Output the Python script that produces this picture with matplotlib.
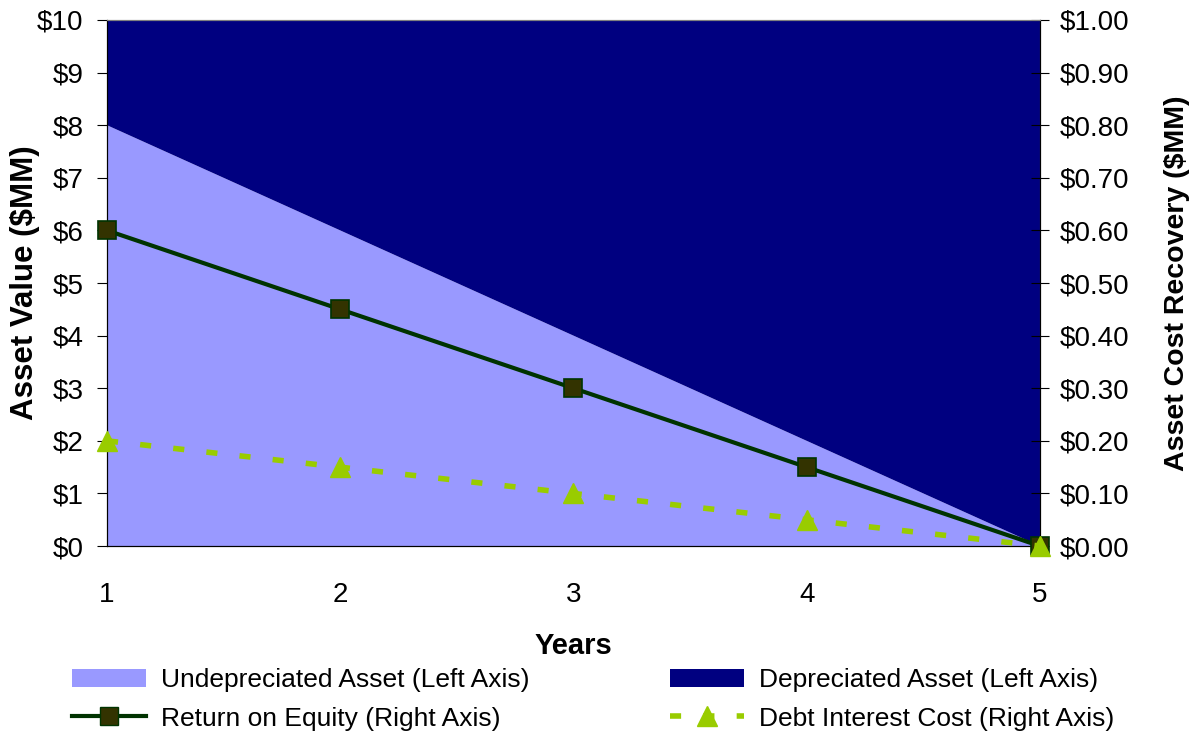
import matplotlib.pyplot as plt
from matplotlib.lines import Line2D
from matplotlib.patches import Patch
import numpy as np

plt.rcParams['font.family'] = ['Liberation Sans', 'DejaVu Sans']

years = [1, 2, 3, 4, 5]
undepreciated = [8, 6, 4, 2, 0]          # $MM, left axis
depreciated = [2, 4, 6, 8, 10]           # $MM, left axis (stacked)
return_on_equity = [0.60, 0.45, 0.30, 0.15, 0.00]  # right axis
debt_interest = [0.20, 0.15, 0.10, 0.05, 0.00]     # right axis

light = '#9999FF'
navy = '#000080'
green = '#003300'
lime = '#99CC00'

fig = plt.figure(figsize=(11.94, 7.32), dpi=100)
ax = fig.add_axes([0.0896, 0.254, 0.7814, 0.7187])
ax.stackplot(years, undepreciated, depreciated, colors=[light, navy], linewidth=0)
ax.set_xlim(1, 5)
ax.set_ylim(0, 10)
ax.set_yticks(np.arange(0, 11, 1))
ax.set_yticklabels([f'${v}' for v in range(11)])
ax.set_xticks(years)
ax.tick_params(axis='x', length=0, pad=26, labelsize=20)
ax.tick_params(axis='y', direction='out', length=7, labelsize=20, pad=10)
ax.set_ylabel('Asset Value ($MM)', fontsize=22.5, fontweight='bold')
ax.yaxis.set_label_coords(-0.0718, 0.5)
ax.set_xlabel('Years', fontsize=21, fontweight='bold', labelpad=17)

ax2 = ax.twinx()
ax2.plot(years, return_on_equity, color=green, lw=3, marker='s', ms=13,
         mfc='#333300', mec=green, mew=1.2, clip_on=False, zorder=3)
ax2.plot(years, debt_interest, color=lime, lw=4, ls=(0, (2, 4)), marker='^', ms=15,
         mfc=lime, mec=lime, clip_on=False, zorder=4)
ax2.set_ylim(0, 1)
ax2.set_yticks(np.arange(0, 1.01, 0.1))
ax2.set_yticklabels([f'${v:.2f}' for v in np.arange(0, 1.01, 0.1)])
ax2.tick_params(axis='y', direction='inout', length=13, labelsize=20, pad=8)
ax2.set_ylabel('Asset Cost Recovery ($MM)', fontsize=20.5, fontweight='bold')
ax2.yaxis.set_label_coords(1.133, 0.5)

for a in (ax, ax2):
    a.spines['top'].set_color('#808080')
    for s in ('left', 'right', 'bottom'):
        a.spines[s].set_color('black')

handles = [
    Patch(facecolor=light, edgecolor='none'),
    Patch(facecolor=navy, edgecolor='none'),
    Line2D([], [], color=green, lw=3, marker='s', ms=13, mfc='#333300', mec=green),
    Line2D([], [], color=lime, lw=4, ls=(0, (2, 4)), marker='^', ms=15, mfc=lime, mec=lime),
]
labels = ['Undepreciated Asset (Left Axis)', 'Depreciated Asset (Left Axis)',
          'Return on Equity (Right Axis)', 'Debt Interest Cost (Right Axis)']
order = [0, 2, 1, 3]
fig.legend([handles[i] for i in order], [labels[i] for i in order], ncol=2,
           loc='upper left', bbox_to_anchor=(0.06, 0.087), frameon=False,
           fontsize=19, handlelength=2.8, handleheight=0.7, columnspacing=5.3,
           handletextpad=0.6, labelspacing=0.54, borderpad=0, borderaxespad=0)

fig.savefig('out.png', dpi=100)
